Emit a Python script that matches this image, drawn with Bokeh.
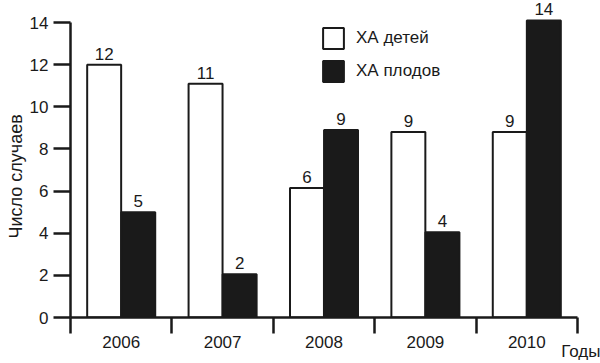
from bokeh.plotting import figure
from bokeh.models import Range1d, FixedTicker, ColumnDataSource, Legend, LegendItem, Title
from bokeh.transform import dodge
from bokeh.core.properties import value
from bokeh.embed import file_html
from bokeh.resources import INLINE

years = ["2006", "2007", "2008", "2009", "2010"]
children = [12.0, 11.1, 6.15, 8.8, 8.8]
fetus = [5.0, 2.05, 8.9, 4.05, 14.1]
children_labels = ["12", "11", "6", "9", "9"]
fetus_labels = ["5", "2", "9", "4", "14"]
y_ticks = [0, 2, 4, 6, 8, 10, 12, 14]

FONT = "Liberation Sans"
INK = "#1a1a1a"

xs = list(range(len(years)))
src = ColumnDataSource(dict(x=xs, children=children, fetus=fetus,
                            cl=children_labels, fl=fetus_labels))

p = figure(width=600, height=363, x_range=Range1d(-0.5, 4.5), y_range=Range1d(0, 15.0),
           output_backend="svg", toolbar_location=None,
           min_border=0, min_border_left=70, min_border_right=23,
           min_border_top=1, min_border_bottom=46)
p.outline_line_color = None
p.xgrid.visible = False
p.ygrid.visible = False
p.background_fill_color = "white"
p.border_fill_color = "white"

bw = 0.335
off = 0.168
r1 = p.vbar(x=dodge("x", -off), top="children", width=bw, source=src,
            fill_color="white", line_color=INK, line_width=2)
r2 = p.vbar(x=dodge("x", off), top="fetus", width=bw, source=src,
            fill_color=INK, line_color=INK, line_width=2)

p.text(x=dodge("x", -off), y="children", text="cl", source=src, y_offset=-5,
       text_align="center", text_baseline="bottom", text_font=value(FONT),
       text_font_size="17px", text_color=INK)
p.text(x=dodge("x", off), y="fetus", text="fl", source=src, y_offset=-5,
       text_align="center", text_baseline="bottom", text_font=value(FONT),
       text_font_size="17px", text_color=INK)

# y axis
ya = p.yaxis[0]
ya.ticker = FixedTicker(ticks=y_ticks)
ya.bounds = (0, 14)
ya.axis_line_width = 2.5
ya.axis_line_color = INK
ya.major_tick_line_width = 2.5
ya.major_tick_line_color = INK
ya.major_tick_out = 17
ya.major_tick_in = 0
ya.minor_tick_out = 0
ya.minor_tick_in = 0
ya.major_label_standoff = 5
ya.major_label_text_font = FONT
ya.major_label_text_font_size = "17px"
ya.major_label_text_color = INK

ytitle = Title(text="Число случаев", align="left", offset=79, vertical_align="middle",
               standoff=0, text_font=FONT, text_font_size="18px",
               text_font_style="normal", text_color=INK)
p.add_layout(ytitle, "left")

# x axis
xa = p.xaxis[0]
xa.ticker = FixedTicker(ticks=xs, minor_ticks=[i - 0.5 for i in range(len(years) + 1)])
xa.major_label_overrides = {i: y for i, y in zip(xs, years)}
xa.axis_line_width = 2.5
xa.axis_line_color = INK
xa.major_tick_out = 0
xa.major_tick_in = 0
xa.minor_tick_out = 16
xa.minor_tick_in = 0
xa.minor_tick_line_width = 2.5
xa.minor_tick_line_color = INK
xa.major_label_standoff = 2
xa.major_label_text_font = FONT
xa.major_label_text_font_size = "17px"
xa.major_label_text_color = INK

xtitle = Title(text="Годы", align="right", offset=-23, vertical_align="middle",
               standoff=-20, text_font=FONT, text_font_size="17px",
               text_font_style="normal", text_color=INK)
p.add_layout(xtitle, "below")

legend = Legend(items=[LegendItem(label="ХА детей", renderers=[r1]),
                       LegendItem(label="ХА плодов", renderers=[r2])],
                location=(250, 233), padding=0, margin=0, spacing=7,
                glyph_width=26, glyph_height=26, label_standoff=10,
                label_text_font=FONT, label_text_font_size="17px",
                label_text_color=INK, border_line_color=None,
                background_fill_alpha=0)
p.add_layout(legend)

open("out.html", "w").write(file_html(p, INLINE))
